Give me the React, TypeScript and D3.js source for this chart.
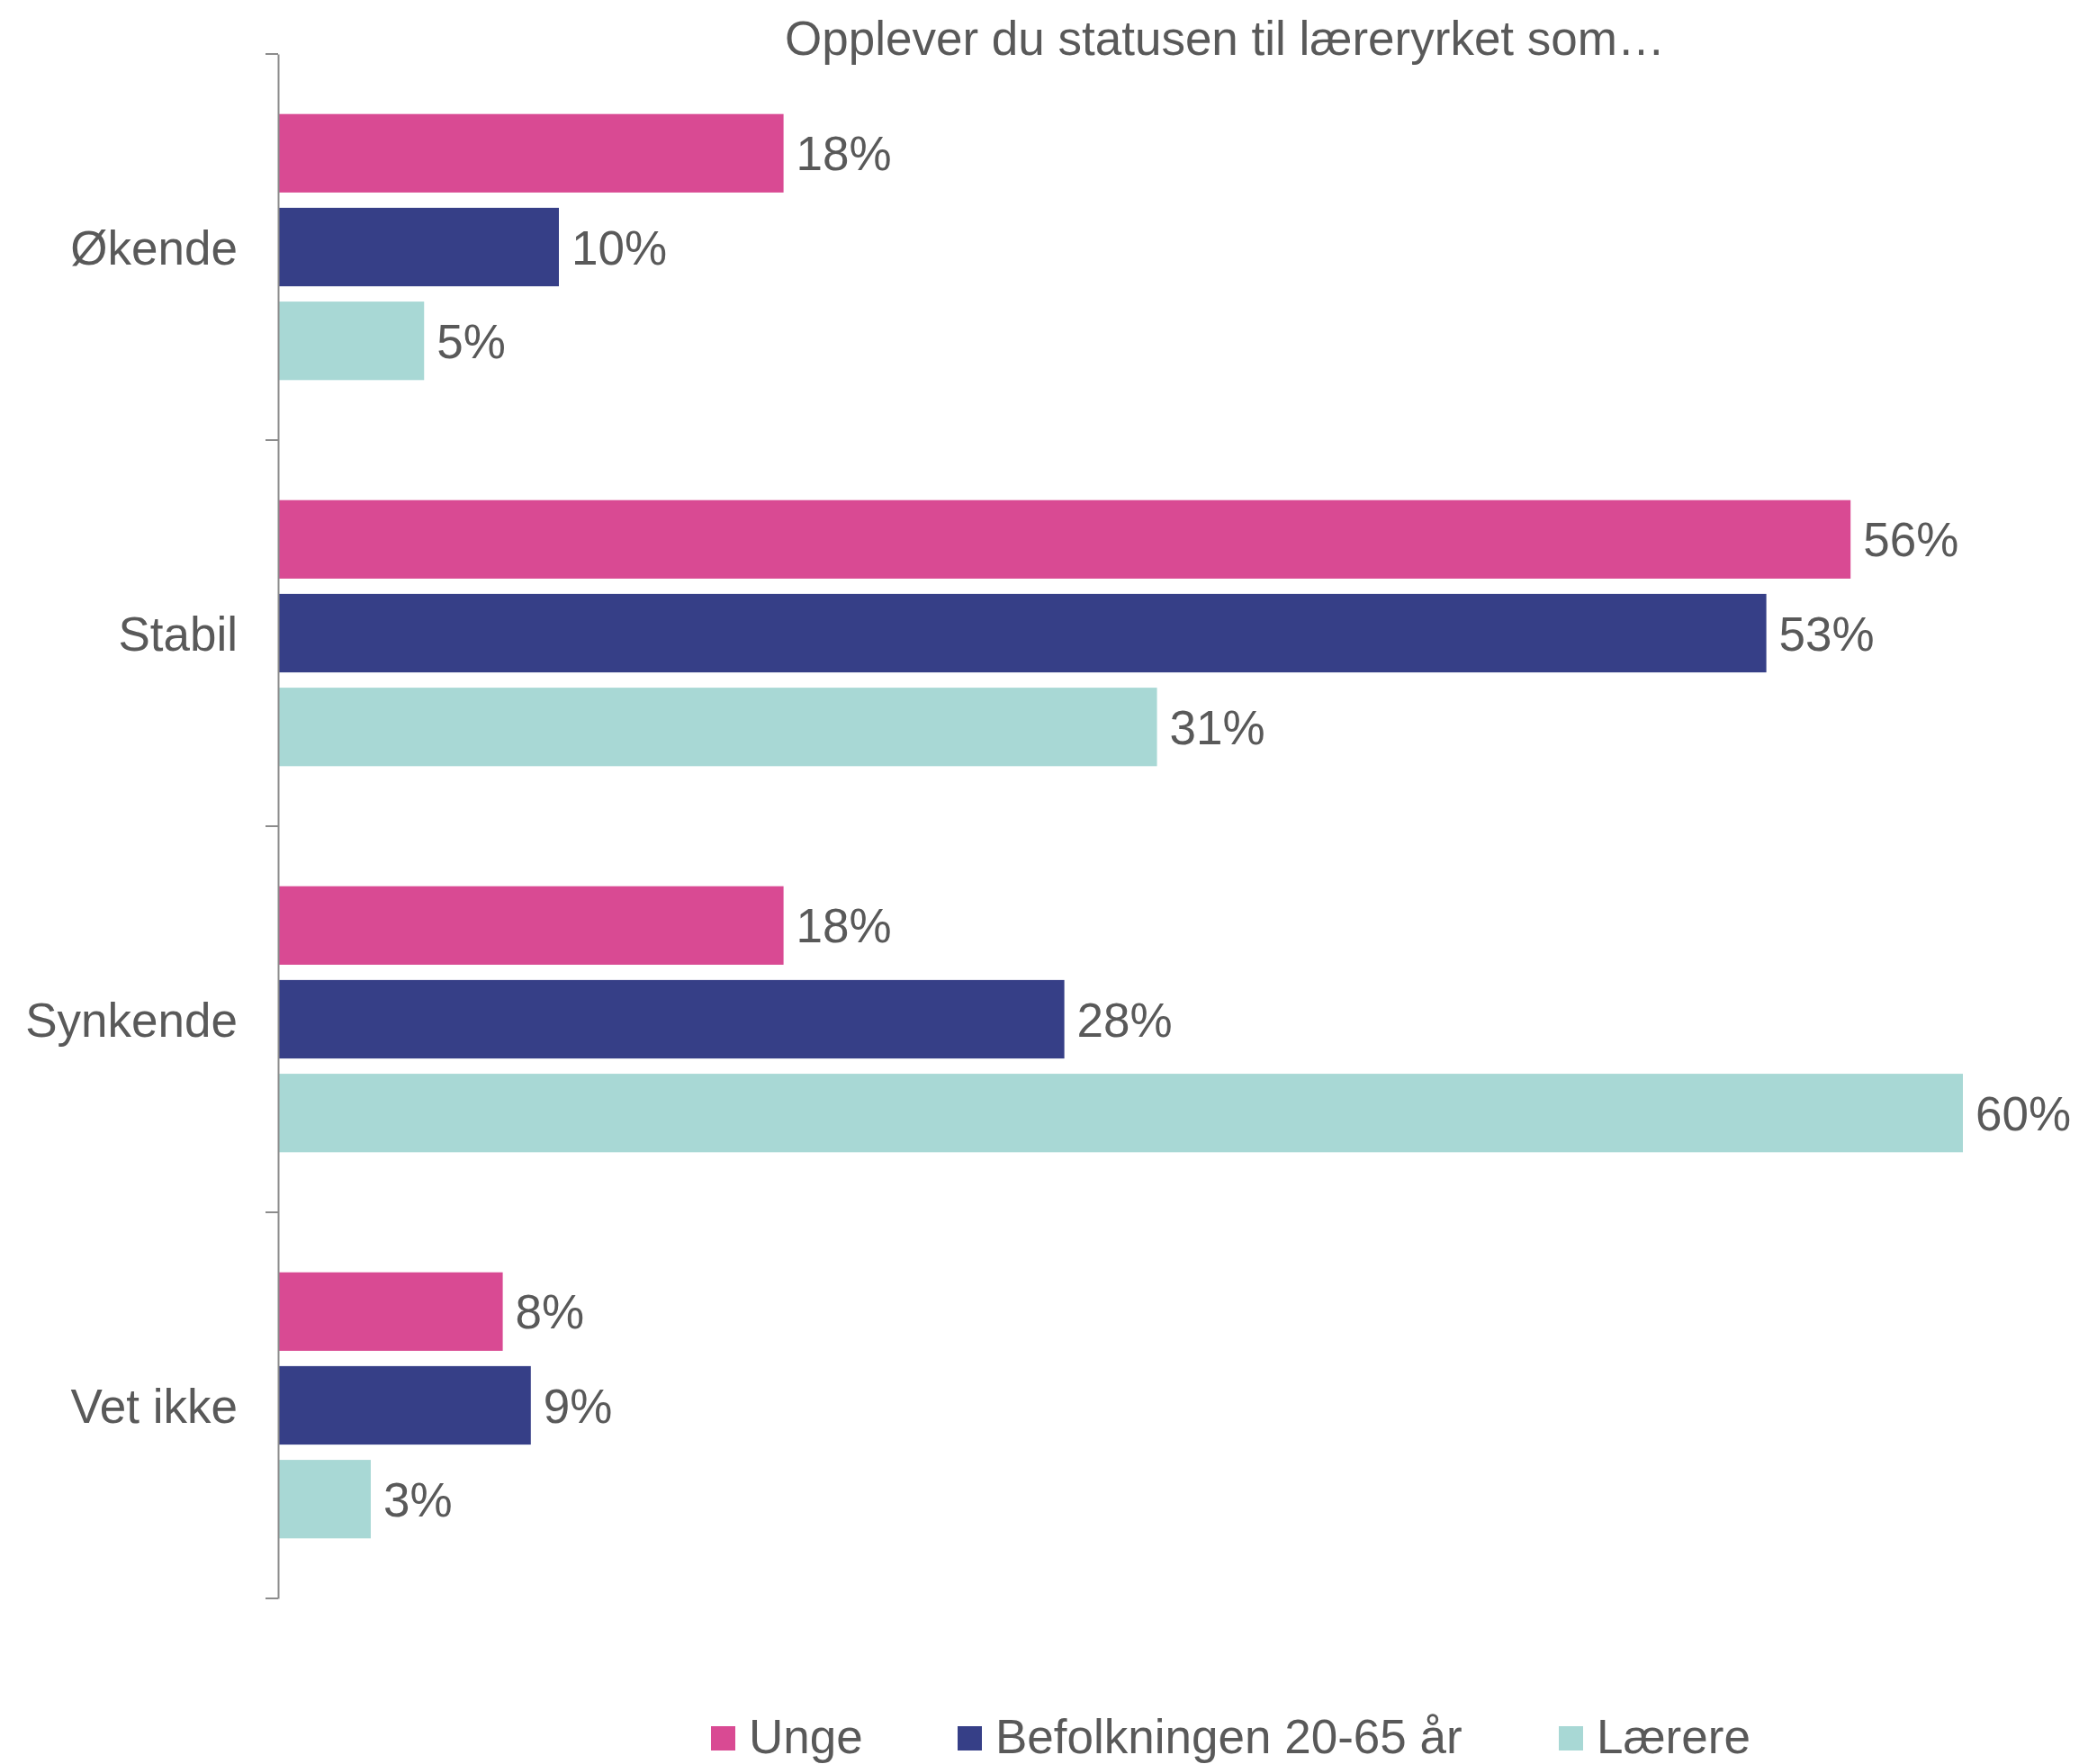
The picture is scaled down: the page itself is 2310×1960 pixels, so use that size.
import { useEffect, useRef } from "react";
import * as d3 from "d3";

const categories = ["Økende", "Stabil", "Synkende", "Vet ikke"];
const seriesNames = ["Unge", "Befolkningen 20-65 år", "Lærere"];
const seriesColors = ["#d94a93", "#363f87", "#a8d8d5"];

// values in percent, one array per series (same order as categories)
const unge = [18, 56, 18, 8];
const befolkningen = [10, 53, 28, 9];
const laerere = [5.2, 31.3, 60, 3.3];

const title = "Opplever du statusen til læreryrket som…";

export default function App() {
  const svgRef = useRef<SVGSVGElement>(null);

  useEffect(() => {
    if (!svgRef.current) return;
    const svg = d3.select(svgRef.current);
    svg.selectAll("*").remove();

    const font = "'Liberation Sans', Arial, sans-serif";
    const fontSize = "53px";
    const textColor = "#595959";
    const seriesValues = [unge, befolkningen, laerere];

    const axisX = 309;
    const top = 60;
    const bottom = 1776;

    const x = d3.scaleLinear().domain([0, 60]).range([axisX, 2181]);
    const y = d3.scaleBand().domain(categories).range([top, bottom]);
    const yInner = d3
      .scaleBand()
      .domain(seriesNames)
      .range([0, y.bandwidth()])
      .paddingInner(0.163)
      .paddingOuter(0.64);

    // Title
    svg
      .append("text")
      .attr("x", 1361)
      .attr("y", 61)
      .attr("text-anchor", "middle")
      .style("font-family", font)
      .style("font-size", fontSize)
      .style("fill", textColor)
      .text(title);

    // Bars
    const groups = svg
      .selectAll(".cat")
      .data(categories)
      .enter()
      .append("g")
      .attr("class", "cat")
      .attr("transform", (d) => `translate(0,${y(d)})`);

    groups.each(function (cat, ci) {
      const g = d3.select(this);
      seriesNames.forEach((s, si) => {
        const v = seriesValues[si][ci];
        g.append("rect")
          .attr("x", x(0))
          .attr("y", yInner(s)!)
          .attr("width", x(v) - x(0))
          .attr("height", yInner.bandwidth())
          .attr("fill", seriesColors[si]);
        g.append("text")
          .attr("x", x(v) + 14)
          .attr("y", yInner(s)! + yInner.bandwidth() / 2)
          .attr("dy", "0.36em")
          .style("font-family", font)
          .style("font-size", fontSize)
          .style("fill", textColor)
          .text(`${Math.round(v)}%`);
      });
    });

    // Category axis
    const axis = svg
      .append("g")
      .attr("transform", `translate(${axisX},0)`)
      .call(d3.axisLeft(y).tickSize(0).tickPadding(45));
    axis.select(".domain").attr("stroke", "#8c8c8c").attr("stroke-width", 2);
    axis
      .selectAll("text")
      .attr("dy", "0.36em")
      .style("font-family", font)
      .style("font-size", fontSize)
      .style("fill", textColor);

    // Boundary ticks between categories
    const boundaries = [...categories.map((c) => y(c)!), bottom];
    svg
      .selectAll(".btick")
      .data(boundaries)
      .enter()
      .append("line")
      .attr("class", "btick")
      .attr("x1", axisX - 14)
      .attr("x2", axisX)
      .attr("y1", (d) => d)
      .attr("y2", (d) => d)
      .attr("stroke", "#8c8c8c")
      .attr("stroke-width", 2);

    // Legend
    const legendX = [790, 1064, 1732];
    const legend = svg
      .selectAll(".legend")
      .data(seriesNames)
      .enter()
      .append("g")
      .attr("class", "legend")
      .attr("transform", (_, i) => `translate(${legendX[i]},1918)`);
    legend
      .append("rect")
      .attr("width", 27)
      .attr("height", 27)
      .attr("fill", (_, i) => seriesColors[i]);
    legend
      .append("text")
      .attr("x", 42)
      .attr("y", 30)
      .style("font-family", font)
      .style("font-size", fontSize)
      .style("fill", textColor)
      .text((d) => d);
  }, []);

  return (
    <svg
      ref={svgRef}
      width="2310"
      height="1960"
      style={{ position: "absolute", left: 0, top: 0, background: "#fff" }}
    />
  );
}
